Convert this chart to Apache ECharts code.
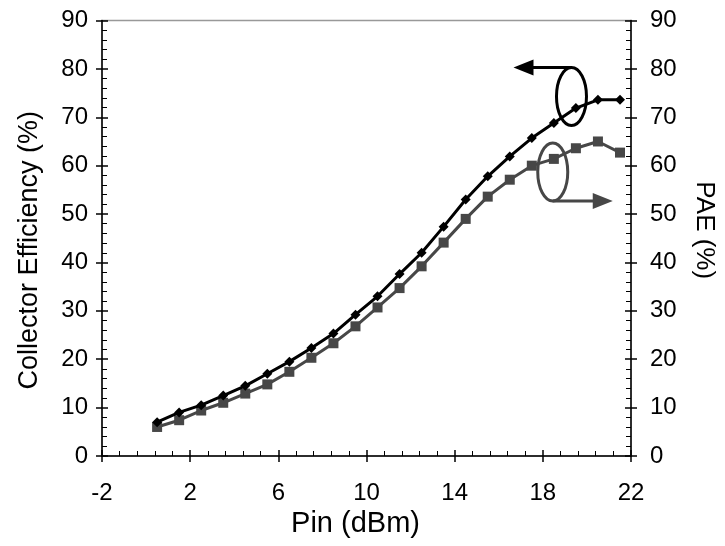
<!DOCTYPE html>
<html>
<head>
<meta charset="utf-8">
<script src="https://cdn.jsdelivr.net/npm/echarts@6/dist/echarts.min.js"></script>
<style>
  html, body { margin: 0; padding: 0; background: #fff; }
  #chart { width: 725px; height: 546px; }
</style>
</head>
<body>
<div id="chart"></div>
<script>
// input power (dBm)
var pin = [0.5, 1.5, 2.5, 3.5, 4.5, 5.5, 6.5, 7.5, 8.5, 9.5, 10.5,
  11.5, 12.5, 13.5, 14.5, 15.5, 16.5, 17.5, 18.5, 19.5, 20.5, 21.5]
// collector efficiency (%)
var collectorEff = [7.0, 9.0, 10.5, 12.5, 14.5, 17.0, 19.5, 22.3, 25.3, 29.2, 33.0,
  37.6, 42.0, 47.4, 53.0, 57.8, 61.9, 65.7, 68.8, 71.9, 73.6, 73.6]
// power added efficiency (%)
var pae = [6.0, 7.4, 9.4, 11.0, 12.9, 14.8, 17.4, 20.3, 23.3, 26.8, 30.7,
  34.7, 39.2, 44.1, 49.0, 53.6, 57.1, 60.0, 61.4, 63.6, 65.0, 62.7]

var FONT = 'Arial, "Liberation Sans", sans-serif'
var GRAY = '#474747'

function pairs (xs, ys) {
  var out = []
  for (var i = 0; i < xs.length; i++) out.push([xs[i], ys[i]])
  return out
}

var chart = echarts.init(document.getElementById('chart'))

// axis with inward major + minor ticks, labels
function valueAxisIn (extra) {
  var base = {
    type: 'value',
    axisLine: { show: true, onZero: false, lineStyle: { color: '#000', width: 1.5 } },
    axisTick: { show: true, inside: true, length: 6, lineStyle: { color: '#000', width: 1.5 } },
    minorTick: { show: true, length: 5, lineStyle: { color: '#000', width: 1 } },
    splitLine: { show: false },
    axisLabel: { color: '#000', fontSize: 24, fontFamily: FONT }
  }
  return Object.assign(base, extra)
}
// overlay axis that only draws outward major ticks
function valueAxisOut (extra) {
  var base = {
    type: 'value',
    axisLine: { show: false, onZero: false },
    axisTick: { show: true, inside: false, length: 6, lineStyle: { color: '#000', width: 1.5 } },
    minorTick: { show: false },
    splitLine: { show: false },
    axisLabel: { show: false }
  }
  return Object.assign(base, extra)
}

var option = {
  backgroundColor: '#fff',
  animation: false,
  grid: {
    left: 102, right: 89, top: 20.5, bottom: 90,
    show: true, borderColor: '#999', borderWidth: 1.5
  },
  xAxis: [
    valueAxisIn({
      position: 'bottom', min: -2, max: 22, interval: 4, splitNumber: 4,
      name: 'Pin (dBm)', nameLocation: 'middle', nameGap: 53,
      nameTextStyle: { color: '#000', fontSize: 29, fontFamily: FONT, padding: [0, 22, 0, 0] },
      axisLabel: { color: '#000', fontSize: 24, fontFamily: FONT, margin: 25 }
    }),
    valueAxisOut({ position: 'bottom', min: -2, max: 22, interval: 4 })
  ],
  yAxis: [
    valueAxisIn({
      position: 'left', min: 0, max: 90, interval: 10, splitNumber: 5,
      name: 'Collector Efficiency (%)', nameLocation: 'middle', nameGap: 59,
      nameTextStyle: { color: '#000', fontSize: 27, fontFamily: FONT, padding: [0, 24, 0, 0] },
      axisLabel: { color: '#000', fontSize: 24, fontFamily: FONT, margin: 14 }
    }),
    valueAxisIn({
      position: 'right', min: 0, max: 90, interval: 10, splitNumber: 5,
      name: 'PAE (%)', nameLocation: 'middle', nameGap: 60, nameRotate: -90,
      nameTextStyle: { color: '#000', fontSize: 26, fontFamily: FONT, padding: [0, 16, 0, 0] },
      axisLabel: { color: '#000', fontSize: 24, fontFamily: FONT, margin: 19 }
    }),
    valueAxisOut({ position: 'left', min: 0, max: 90, interval: 10 }),
    valueAxisOut({ position: 'right', min: 0, max: 90, interval: 10 })
  ],
  series: [
    {
      name: 'PAE',
      type: 'line',
      yAxisIndex: 1,
      data: pairs(pin, pae),
      symbol: 'rect',
      symbolSize: 10,
      itemStyle: { color: GRAY },
      lineStyle: { color: GRAY, width: 3 },
      z: 3
    },
    {
      name: 'Collector Efficiency',
      type: 'line',
      yAxisIndex: 0,
      data: pairs(pin, collectorEff),
      symbol: 'diamond',
      symbolSize: 10,
      itemStyle: { color: '#000' },
      lineStyle: { color: '#000', width: 3 },
      z: 4
    }
  ]
}
chart.setOption(option)

// arrow + ellipse annotations, anchored in data space
function px (x, y) { return chart.convertToPixel({ xAxisIndex: 0, yAxisIndex: 0 }, [x, y]) }
var c1 = px(19.3, 74.3)
var c2 = px(18.45, 58.7)
var rx = 15, ry1 = 29, ry2 = 29
var ann = [
  { type: 'ellipse', shape: { cx: c1[0], cy: c1[1], rx: rx, ry: ry1 },
    style: { fill: 'none', stroke: '#000', lineWidth: 3 }, z: 10 },
  { type: 'line', shape: { x1: c1[0], y1: c1[1] - ry1, x2: c1[0] - 40, y2: c1[1] - ry1 },
    style: { stroke: '#000', lineWidth: 3 }, z: 10 },
  { type: 'polygon', shape: { points: [[c1[0] - 58, c1[1] - ry1], [c1[0] - 38, c1[1] - ry1 - 8], [c1[0] - 38, c1[1] - ry1 + 8]] },
    style: { fill: '#000' }, z: 10 },
  { type: 'ellipse', shape: { cx: c2[0], cy: c2[1], rx: rx, ry: ry2 },
    style: { fill: 'none', stroke: GRAY, lineWidth: 3 }, z: 10 },
  { type: 'line', shape: { x1: c2[0], y1: c2[1] + ry2, x2: c2[0] + 42, y2: c2[1] + ry2 },
    style: { stroke: GRAY, lineWidth: 3 }, z: 10 },
  { type: 'polygon', shape: { points: [[c2[0] + 60, c2[1] + ry2], [c2[0] + 40, c2[1] + ry2 - 8], [c2[0] + 40, c2[1] + ry2 + 8]] },
    style: { fill: GRAY }, z: 10 }
]
chart.setOption({ graphic: ann })
</script>
</body>
</html>
